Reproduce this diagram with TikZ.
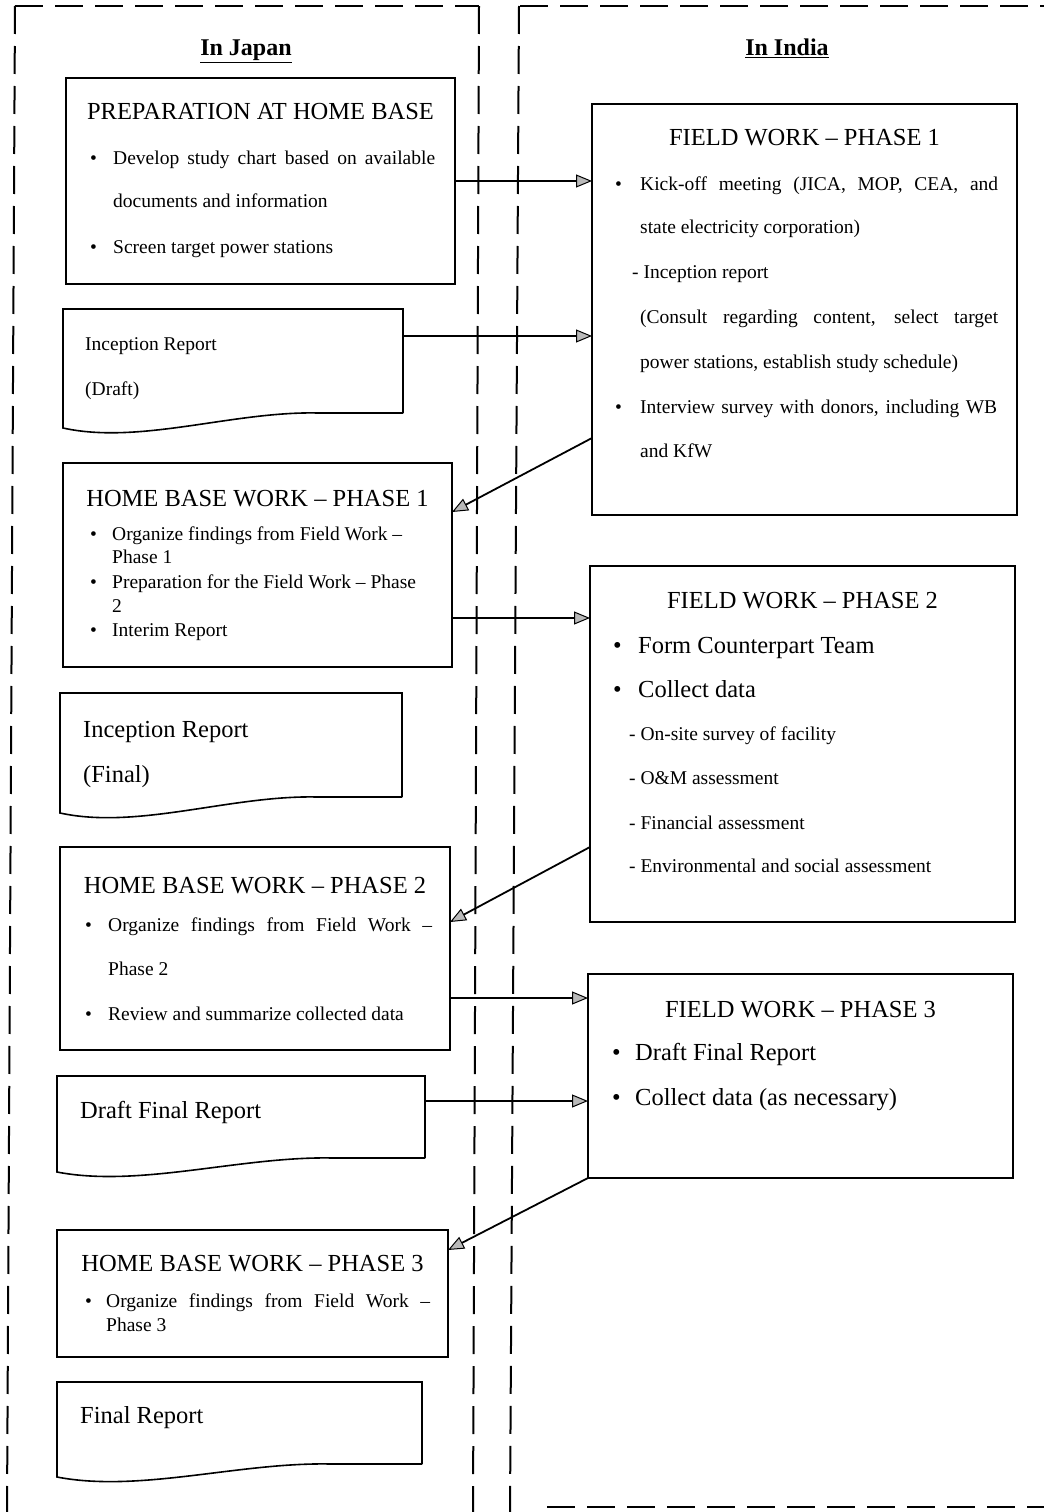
\documentclass[tikz,border=0pt]{standalone}
\usepackage{fontspec}
\setmainfont{Liberation Serif}
\usetikzlibrary{arrows.meta}
\tikzset{
  box/.style={draw, line width=1.6pt, anchor=north west, inner sep=0pt, outer sep=0pt},
  docn/.style={anchor=north west, inner sep=0pt, outer sep=0pt},
  docline/.style={line width=1.6pt, line join=miter},
  txt/.style={anchor=base west, inner sep=0pt, font=\fontsize{19.5}{22}\selectfont},
  big/.style={anchor=base west, inner sep=0pt, font=\fontsize{24.5}{28}\selectfont},
  ttl/.style={anchor=base, inner sep=0pt, font=\fontsize{24.5}{28}\selectfont},
  hdr/.style={anchor=base, inner sep=0pt, font=\fontsize{24}{28}\selectfont\bfseries},
  arr/.style={line width=1.8pt, -{Triangle[length=16pt,width=13pt,fill=gray!55,line width=1pt]}},
  sep/.style={line width=2pt, dash pattern=on 28pt off 12pt},
}
\begin{document}
\begin{tikzpicture}[x=1pt,y=-1pt]
\useasboundingbox (0,0) rectangle (1044,1512);

% ---- dashed regions ----
\draw[sep] (15,6) -- (479,6);
\draw[sep] (15,6) -- (7,1512);
\draw[sep] (479,6) -- (473,1512);
\draw[sep] (520,6) -- (1044,6);
\draw[sep] (519,6) -- (510,1512);
\draw[sep] (547,1507) -- (1044,1507);

\node[hdr] (hjapan) at (246,56) {\underline{In Japan}};
\node[hdr] (hindia) at (787,56) {\underline{In India}};

% ---- left boxes ----
\node[box, minimum width=389pt, minimum height=206pt] (prep) at (66,78) {};
\node[box, minimum width=389pt, minimum height=204pt] (hb1) at (63,463) {};
\node[box, minimum width=390pt, minimum height=203pt] (hb2) at (60,847) {};
\node[box, minimum width=391pt, minimum height=127pt] (hb3) at (57,1230) {};

% ---- right boxes ----
\node[box, minimum width=425pt, minimum height=411pt] (fw1) at (592,104) {};
\node[box, minimum width=425pt, minimum height=356pt] (fw2) at (590,566) {};
\node[box, minimum width=425pt, minimum height=204pt] (fw3) at (588,974) {};

% ---- document shapes ----
\node[docn, minimum width=340pt, minimum height=104pt] (ird) at (63,309) {};
\draw[docline] (ird.south east) -- (ird.north east) -- (ird.north west) -- (63,428)
  .. controls (140,445) and (233,411) .. (318,413) -- (ird.south east);

\node[docn, minimum width=342pt, minimum height=104pt] (irf) at (60,693) {};
\draw[docline] (irf.south east) -- (irf.north east) -- (irf.north west) -- (60,813)
  .. controls (138,830) and (231,795) .. (317,797) -- (irf.south east);

\node[docn, minimum width=368pt, minimum height=82pt] (dfr) at (57,1076) {};
\draw[docline] (dfr.south east) -- (dfr.north east) -- (dfr.north west) -- (57,1172)
  .. controls (140,1188) and (241,1156) .. (333,1158) -- (dfr.south east);

\node[docn, minimum width=365pt, minimum height=82pt] (fr) at (57,1382) {};
\draw[docline] (fr.south east) -- (fr.north east) -- (fr.north west) -- (57,1477)
  .. controls (140,1493) and (239,1462) .. (331,1464) -- (fr.south east);

% ---- texts: PREPARATION ----
\node[ttl] (prept) at (260.5,119) {PREPARATION AT HOME BASE};
\node[txt] (prepb1) at (90,164) {•};
\node[txt] (prepl1) at (113,164) {\makebox[322pt][s]{Develop study chart based on available}};
\node[txt] (prepl2) at (113,207) {documents and information};
\node[txt] (prepb2) at (90,253) {•};
\node[txt] (prepl3) at (113,253) {Screen target power stations};

% ---- Inception report draft ----
\node[txt] (irdl1) at (85,350) {Inception Report};
\node[txt] (irdl2) at (85,395) {(Draft)};

% ---- HBW 1 ----
\node[ttl] (hb1t) at (257.5,506) {HOME BASE WORK \textendash\ PHASE 1};
\node[txt] (hb1b1) at (90,540) {•};
\node[txt] (hb1l1) at (112,540) {Organize findings from Field Work \textendash};
\node[txt] (hb1l2) at (112,563) {Phase 1};
\node[txt] (hb1b2) at (90,588) {•};
\node[txt] (hb1l3) at (112,588) {Preparation for the Field Work \textendash\ Phase};
\node[txt] (hb1l4) at (112,612) {2};
\node[txt] (hb1b3) at (90,636) {•};
\node[txt] (hb1l5) at (112,636) {Interim Report};

% ---- Inception report final ----
\node[big] (irfl1) at (83,737) {Inception Report};
\node[big] (irfl2) at (83,782) {(Final)};

% ---- HBW 2 ----
\node[ttl] (hb2t) at (255,893) {HOME BASE WORK \textendash\ PHASE 2};
\node[txt] (hb2b1) at (85,931) {•};
\node[txt] (hb2l1) at (108,931) {\makebox[324pt][s]{Organize findings from Field Work \textendash}};
\node[txt] (hb2l2) at (108,975) {Phase 2};
\node[txt] (hb2b2) at (85,1020) {•};
\node[txt] (hb2l3) at (108,1020) {Review and summarize collected data};

% ---- Draft final report ----
\node[big] (dfrl) at (80,1118) {Draft Final Report};

% ---- HBW 3 ----
\node[ttl] (hb3t) at (252.5,1271) {HOME BASE WORK \textendash\ PHASE 3};
\node[txt] (hb3b1) at (85,1307) {•};
\node[txt] (hb3l1) at (106,1307) {\makebox[324pt][s]{Organize findings from Field Work \textendash}};
\node[txt] (hb3l2) at (106,1331) {Phase 3};

% ---- Final report ----
\node[big] (frl) at (80,1423) {Final Report};

% ---- FW 1 ----
\node[ttl] (fw1t) at (804.5,145) {FIELD WORK \textendash\ PHASE 1};
\node[txt] (fw1b1) at (615,190) {•};
\node[txt] (fw1l1) at (640,190) {\makebox[358pt][s]{Kick-off meeting (JICA, MOP, CEA, and}};
\node[txt] (fw1l2) at (640,233) {state electricity corporation)};
\node[txt] (fw1l3) at (632,278) {- Inception report};
\node[txt] (fw1l4) at (640,323) {\makebox[358pt][s]{(Consult regarding content, select target}};
\node[txt] (fw1l5) at (640,368) {power stations, establish study schedule)};
\node[txt] (fw1b2) at (615,413) {•};
\node[txt] (fw1l6) at (640,413) {\makebox[357pt][s]{Interview survey with donors, including WB}};
\node[txt] (fw1l7) at (640,457) {and KfW};

% ---- FW 2 ----
\node[ttl] (fw2t) at (802.5,608) {FIELD WORK \textendash\ PHASE 2};
\node[big] (fw2b1) at (613,653) {•};
\node[big] (fw2l1) at (638,653) {Form Counterpart Team};
\node[big] (fw2b2) at (613,697) {•};
\node[big] (fw2l2) at (638,697) {Collect data};
\node[txt] (fw2l3) at (629,740) {- On-site survey of facility};
\node[txt] (fw2l4) at (629,784) {- O\&M assessment};
\node[txt] (fw2l5) at (629,829) {- Financial assessment};
\node[txt] (fw2l6) at (629,872) {- Environmental and social assessment};

% ---- FW 3 ----
\node[ttl] (fw3t) at (800.5,1017) {FIELD WORK \textendash\ PHASE 3};
\node[big] (fw3b1) at (612,1060) {•};
\node[big] (fw3l1) at (635,1060) {Draft Final Report};
\node[big] (fw3b2) at (612,1105) {•};
\node[big] (fw3l2) at (635,1105) {Collect data (as necessary)};

% ---- connectors ----
\draw[arr] (prep.east) -- (prep.east -| fw1.west);
\draw[arr] ([yshift=-27pt]ird.north east) -- ([yshift=-27pt]ird.north east -| fw1.west);
\draw[arr] ([yshift=77pt]fw1.south west) -- ([yshift=-49pt]hb1.north east);
\draw[arr] ([yshift=-155pt]hb1.north east) -- ([yshift=-155pt]hb1.north east -| fw2.west);
\draw[arr] ([yshift=75pt]fw2.south west) -- ([yshift=-75pt]hb2.north east);
\draw[arr] ([yshift=-151pt]hb2.north east) -- ([yshift=-151pt]hb2.north east -| fw3.west);
\draw[arr] ([yshift=-25pt]dfr.north east) -- ([yshift=-25pt]dfr.north east -| fw3.west);
\draw[arr] (fw3.south west) -- ([yshift=-20pt]hb3.north east);
\end{tikzpicture}
\end{document}
